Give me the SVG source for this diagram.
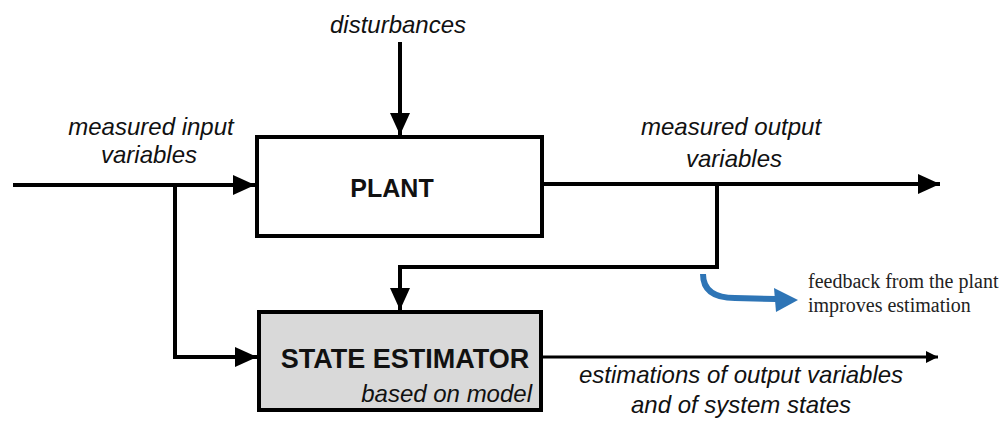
<svg xmlns="http://www.w3.org/2000/svg" width="1006" height="423" viewBox="0 0 1006 423">
  <style>
    .lbl { font-family: "Liberation Sans", Arial, sans-serif; font-style: italic; font-size: 24px; fill: #111; }
    .title { font-family: "Liberation Sans", Arial, sans-serif; font-weight: bold; fill: #111; }
    .note { font-family: "Liberation Serif", "Times New Roman", serif; font-size: 20px; fill: #222; }
    .wire { fill: none; stroke: #000; stroke-width: 4; }
    .thin { fill: none; stroke: #000; stroke-width: 3; }
    .box { stroke: #000; stroke-width: 4; }
  </style>
  <defs>
    <marker id="arrow" markerUnits="userSpaceOnUse" markerWidth="22" markerHeight="20" refX="22" refY="10" orient="auto">
      <path d="M0,0 L22,10 L0,20 Z" fill="#000"/>
    </marker>
    <marker id="arrowSmall" markerUnits="userSpaceOnUse" markerWidth="12" markerHeight="12" refX="12" refY="6" orient="auto">
      <path d="M0,0 L12,6 L0,12 Z" fill="#000"/>
    </marker>
  </defs>

  <rect width="1006" height="423" fill="#fff"/>

  <g id="connectors">
    <path class="wire" d="M400,42 V135" marker-end="url(#arrow)"/>
    <path class="wire" d="M13,185 H255" marker-end="url(#arrow)"/>
    <path class="wire" d="M175,185 V357 H257" marker-end="url(#arrow)"/>
    <path class="wire" d="M544,184 H940" marker-end="url(#arrow)"/>
    <path class="wire" d="M717,184 V267 H400 V310" marker-end="url(#arrow)"/>
    <path class="thin" d="M543,357 H938" marker-end="url(#arrowSmall)"/>
  </g>

  <g id="plant">
    <rect class="box" x="257" y="137" width="285" height="99" fill="#fff"/>
    <text class="title" x="392" y="197" font-size="25" text-anchor="middle">PLANT</text>
  </g>

  <g id="state-estimator">
    <rect class="box" x="259" y="312" width="282" height="98" fill="#d9d9d9"/>
    <text class="title" x="405" y="368" font-size="27" text-anchor="middle">STATE ESTIMATOR</text>
    <text class="lbl" x="532" y="402" text-anchor="end">based on model</text>
  </g>

  <g id="labels">
    <text class="lbl" x="398" y="33" text-anchor="middle">disturbances</text>
    <text class="lbl" x="151" y="135" text-anchor="middle">measured input</text>
    <text class="lbl" x="149" y="163" text-anchor="middle">variables</text>
    <text class="lbl" x="731" y="135" text-anchor="middle">measured output</text>
    <text class="lbl" x="734" y="167" text-anchor="middle">variables</text>
    <text class="lbl" x="741" y="383" text-anchor="middle">estimations of output variables</text>
    <text class="lbl" x="741" y="413" text-anchor="middle">and of system states</text>
  </g>

  <g id="feedback-note">
    <path d="M703,274 Q703,298 735,298 L776,299" fill="none" stroke="#2e75b6" stroke-width="6"/>
    <polygon points="774,288 798,300 776,312" fill="#2e75b6"/>
    <text class="note" x="808" y="288">feedback from the plant</text>
    <text class="note" x="808" y="312">improves estimation</text>
  </g>
</svg>
